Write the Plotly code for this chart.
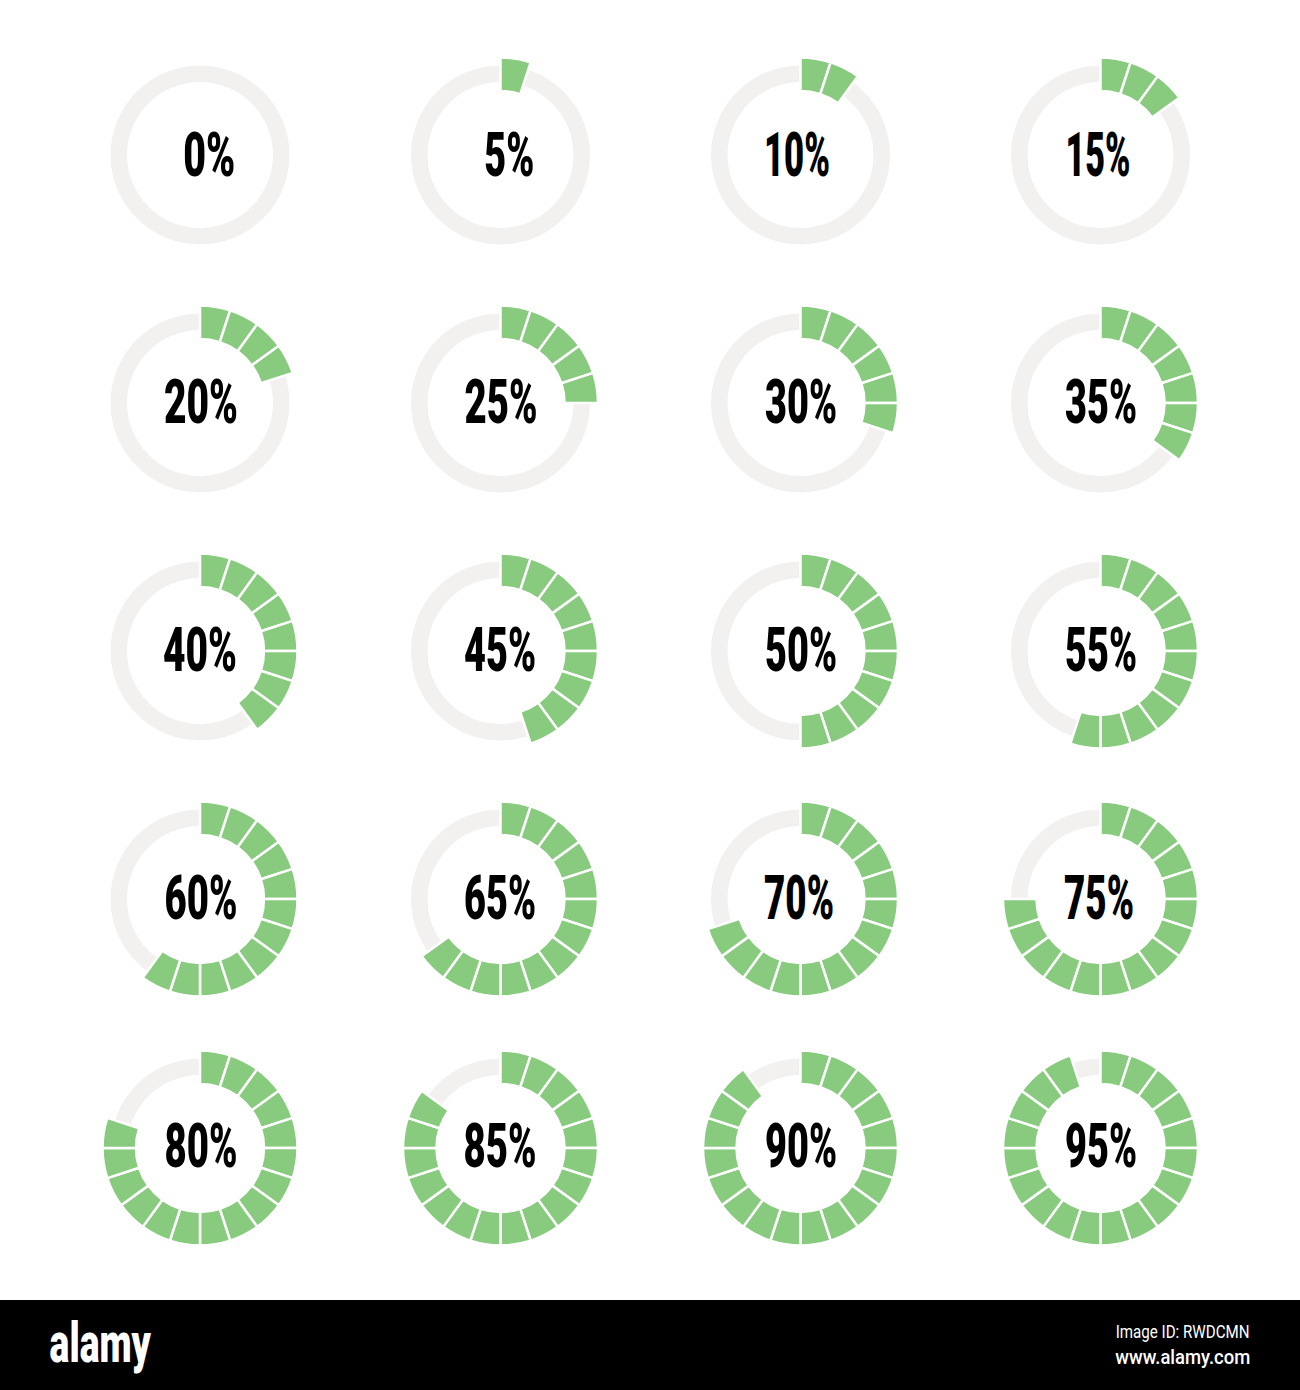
import json
import plotly.graph_objects as go

WIDTH = 1300
HEIGHT = 1390

percents = [0, 5, 10, 15, 20, 25, 30, 35, 40, 45, 50, 55, 60, 65, 70, 75, 80, 85, 90, 95]
labels = [f"{p}%" for p in percents]
col_x = [200, 500.5, 800.5, 1100.5]
row_y = [155, 403, 651, 899, 1148]
label_x = [209, 509, 797, 1097.5, 201, 500.5, 801, 1101, 200, 500, 801, 1101,
           200.5, 500, 799, 1099, 200.5, 500, 801, 1101]
label_y = [155, 402, 650, 898, 1146]
# measured text widths in the picture, px
label_w = [52, 50, 66, 65, 74, 73, 72, 72, 74, 72, 72, 72,
           73, 72, 70, 70, 73, 73, 72, 72]

GREEN = "#88cb7f"
GRAY = "#f2f1f0"
TEXT_FONT = "Roboto"


def domain(cx, cy, r):
    return {
        "x": [(cx - r) / WIDTH, (cx + r) / WIDTH],
        "y": [1 - (cy + r) / HEIGHT, 1 - (cy - r) / HEIGHT],
    }


def text_note(text, x, y, size, weight, color):
    return {
        "x": x / WIDTH,
        "y": 1 - y / HEIGHT,
        "xref": "paper",
        "yref": "paper",
        "text": text,
        "showarrow": False,
        "xanchor": "center",
        "yanchor": "middle",
        "font": {"family": TEXT_FONT, "size": size, "weight": weight, "color": color},
    }


fig = go.Figure()

for i, pct in enumerate(percents):
    cx = col_x[i % 4]
    cy = row_y[i // 4]
    # grey track first, the green blocks go on top of it
    fig.add_trace(
        go.Pie(
            values=[100],
            domain=domain(cx, cy, 89.5),
            hole=73 / 89.5,
            sort=False,
            marker={"colors": [GRAY], "line": {"width": 0}},
            textinfo="none",
            hoverinfo="skip",
            showlegend=False,
        )
    )
    if pct == 0:
        continue
    blocks = pct // 5
    values = [5] * blocks + [100 - pct]
    fig.add_trace(
        go.Pie(
            values=values,
            domain=domain(cx, cy, 97.5),
            hole=64 / 97.5,
            sort=False,
            direction="clockwise",
            rotation=0,
            marker={
                "colors": [GREEN] * blocks + ["rgba(0,0,0,0)"],
                "line": {
                    "color": ["#ffffff"] * blocks + ["rgba(0,0,0,0)"],
                    "width": 2.5,
                },
            },
            textinfo="none",
            hoverinfo="skip",
            showlegend=False,
        )
    )

annotations = []
widths = {}
for i, label in enumerate(labels):
    annotations.append(text_note(label, label_x[i], label_y[i // 4], 61, 900, "#000000"))
    widths[label] = label_w[i]

# footer band text
annotations.append(text_note("alamy", 101, 1343, 56, 900, "#ffffff"))
annotations.append(text_note("Image ID: RWDCMN", 1182, 1331, 18, 400, "#ffffff"))
annotations.append(text_note("www.alamy.com", 1182.5, 1357, 21, 500, "#ffffff"))
widths["alamy"] = 102
widths["Image ID: RWDCMN"] = 134
widths["www.alamy.com"] = 135

fig.update_layout(
    width=WIDTH,
    height=HEIGHT,
    margin={"l": 0, "r": 0, "t": 0, "b": 0},
    paper_bgcolor="#ffffff",
    plot_bgcolor="#ffffff",
    annotations=annotations,
    shapes=[
        {
            "type": "rect", "xref": "paper", "yref": "paper",
            "x0": 0, "x1": 1, "y0": 0, "y1": 1 - 1300 / HEIGHT,
            "fillcolor": "#000000", "line": {"width": 0}, "layer": "below",
        }
    ],
)

# squeeze the texts horizontally, no installed font is this condensed
squeeze = """
var widths = %s;
document.body.style.margin = '0';
document.querySelectorAll('.annotation-text').forEach(function (t) {
  var b = t.getBBox();
  var c = b.x + b.width / 2;
  var s = widths[t.textContent] / b.width;
  t.setAttribute('transform', 'translate(' + c + ' 0) scale(' + s + ' 1) translate(' + (-c) + ' 0)');
});
""" % json.dumps(widths)

fig.write_html("out.html", post_script=squeeze, config={"displayModeBar": False})
